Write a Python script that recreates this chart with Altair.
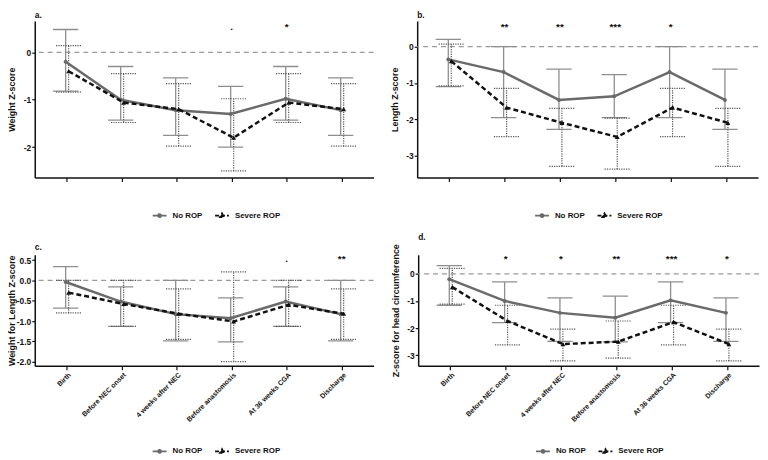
import altair as alt
import pandas as pd

FONT = "Liberation Sans"
STAGES = ["Birth", "Before NEC onset", "4 weeks after NEC", "Before anastomosis",
          "At 36 weeks CGA", "Discharge"]
GROUPS = ["No ROP", "Severe ROP"]

# ---- panel a: Weight Z-score
a_no_mean = [-0.20, -1.00, -1.22, -1.30, -0.98, -1.22]
a_no_lo = [-0.82, -1.43, -1.75, -2.00, -1.43, -1.75]
a_no_hi = [0.48, -0.30, -0.54, -0.72, -0.30, -0.54]
a_sev_mean = [-0.40, -1.06, -1.20, -1.80, -1.06, -1.20]
a_sev_lo = [-0.84, -1.48, -1.98, -2.50, -1.48, -1.98]
a_sev_hi = [0.14, -0.45, -0.66, -0.98, -0.45, -0.66]
a_sig = ["", "", "", ".", "*", ""]

# ---- panel b: Length Z-score
b_no_mean = [-0.35, -0.70, -1.47, -1.37, -0.70, -1.47]
b_no_lo = [-1.10, -1.96, -2.28, -1.96, -1.96, -2.28]
b_no_hi = [0.20, 0.00, -0.62, -0.77, 0.00, -0.62]
b_sev_mean = [-0.40, -1.68, -2.10, -2.49, -1.68, -2.10]
b_sev_lo = [-1.08, -2.48, -3.30, -3.38, -2.48, -3.30]
b_sev_hi = [0.07, -1.15, -1.70, -1.97, -1.15, -1.70]
b_sig = ["", "**", "**", "***", "*", ""]

# ---- panel c: Weight for Length Z-score
c_no_mean = [-0.04, -0.52, -0.83, -0.93, -0.52, -0.83]
c_no_lo = [-0.68, -1.13, -1.49, -1.51, -1.13, -1.49]
c_no_hi = [0.34, -0.16, 0.00, -0.43, -0.16, 0.00]
c_sev_mean = [-0.30, -0.58, -0.82, -1.01, -0.60, -0.82]
c_sev_lo = [-0.80, -1.13, -1.45, -2.00, -1.13, -1.45]
c_sev_hi = [0.00, 0.00, -0.21, 0.21, 0.00, -0.21]
c_sig = ["", "", "", "", ".", "**"]

# ---- panel d: Z-score for head circumference
d_no_mean = [-0.20, -1.00, -1.44, -1.62, -0.98, -1.44]
d_no_lo = [-1.16, -1.80, -2.49, -2.51, -1.80, -2.49]
d_no_hi = [0.30, -0.30, -0.89, -0.82, -0.30, -0.89]
d_sev_mean = [-0.49, -1.74, -2.59, -2.50, -1.78, -2.59]
d_sev_lo = [-1.12, -2.62, -3.21, -3.11, -2.62, -3.21]
d_sev_hi = [0.20, -1.16, -2.04, -1.74, -1.16, -2.04]
d_sig = ["", "*", "*", "**", "***", "*"]

NO_LINE = "#6a6a6a"
NO_BAR = "#8e8e8e"
SEV_LINE = "#111111"
SEV_BAR = "#555555"

LEG_NO = "M-1,0H1M-0.22,0A0.22,0.22,0,1,1,0.22,0A0.22,0.22,0,1,1,-0.22,0Z"
LEG_SEV = "M-1,0H1M0,-0.32L0.3,0.22L-0.3,0.22Z"


def panel(letter, ytitle, dom, ticks, fmt, w, h, show_x, no, sev, sig, sig_y, leg_y):
    rows = []
    for i, s in enumerate(STAGES):
        rows.append(dict(stage=s, group="No ROP", mean=no[0][i], lo=no[1][i], hi=no[2][i]))
        rows.append(dict(stage=s, group="Severe ROP", mean=sev[0][i], lo=sev[1][i], hi=sev[2][i]))
    df = pd.DataFrame(rows)
    sdf = pd.DataFrame({"stage": STAGES, "sig": sig})

    xaxis = alt.Axis(title=None, labels=show_x, labelAngle=-45, labelFontSize=7,
                     labelFont=FONT, labelFontWeight="bold", labelColor="#111",
                     tickSize=4, tickColor="#111", tickWidth=1.2, labelPadding=1,
                     domainColor="#111", domainWidth=1.5, grid=False)
    xenc = alt.X("stage:N", sort=STAGES, scale=alt.Scale(type="point", padding=0.58), axis=xaxis)
    yscale = alt.Scale(domain=dom, nice=False, zero=False)
    yaxis = alt.Axis(values=ticks, format=fmt, title=ytitle, grid=False,
                     labelExpr="replace(datum.label, '\u2212', '-')",
                     labelFont=FONT, labelFontSize=8.5, labelFontWeight="bold", labelColor="#111",
                     titleFont=FONT, titleFontSize=9, titleFontWeight="bold", titleColor="#111",
                     tickSize=3, tickColor="#111", tickWidth=1.2, labelPadding=1,
                     domainColor="#111", domainWidth=1.5, minExtent=17, maxExtent=17,
                     titlePadding=1)

    def Y(f):
        return alt.Y(f, scale=yscale, axis=yaxis)

    base = alt.Chart(df)
    zero = alt.Chart(pd.DataFrame({"z": [0]})).mark_rule(
        color="#9a9a9a", strokeDash=[5, 4], strokeWidth=1.3).encode(y=Y("z:Q"))

    layers = [zero]
    specs = [("No ROP", NO_BAR, [1, 0], -1, 1.3), ("Severe ROP", SEV_BAR, [1.2, 1.2], 2, 1.2)]
    for g, col, dash, off, sw in specs:
        gb = base.transform_filter(alt.datum.group == g)
        layers.append(gb.mark_rule(color=col, strokeDash=dash, strokeWidth=sw, xOffset=off)
                      .encode(x=xenc, y=Y("lo:Q"), y2="hi:Q"))
        layers.append(gb.transform_fold(["lo", "hi"], as_=["k", "v"])
                      .mark_point(shape="M-1,0H1", size=650, color=col, strokeDash=dash,
                                  strokeWidth=sw, opacity=1, filled=False, xOffset=off)
                      .encode(x=xenc, y=Y("v:Q")))
    nob = base.transform_filter(alt.datum.group == "No ROP")
    sevb = base.transform_filter(alt.datum.group == "Severe ROP")
    layers.append(nob.mark_line(color=NO_LINE, strokeWidth=2.5, xOffset=-1)
                  .encode(x=xenc, y=Y("mean:Q")))
    layers.append(nob.mark_point(shape="circle", filled=True, size=16, color=NO_LINE,
                                 opacity=1, xOffset=-1)
                  .encode(x=xenc, y=Y("mean:Q")))
    layers.append(sevb.mark_line(color=SEV_LINE, strokeWidth=2.5, strokeDash=[5, 3], xOffset=2)
                  .encode(x=xenc, y=Y("mean:Q")))
    layers.append(sevb.mark_point(shape="triangle-up", filled=True, size=24, color=SEV_LINE,
                                  opacity=1, xOffset=2)
                  .encode(x=xenc, y=Y("mean:Q")))
    layers.append(alt.Chart(sdf).mark_text(font=FONT, fontSize=10, fontWeight="bold",
                                           color="#111", baseline="middle")
                  .encode(x=xenc, y=alt.value(sig_y), text="sig:N"))

    leg = alt.Legend(title=None, orient="none", legendX=118, legendY=leg_y,
                     direction="horizontal", symbolSize=196, symbolStrokeWidth=1.8,
                     labelFont=FONT, labelFontSize=8, labelFontWeight="bold",
                     labelColor="#111", columnPadding=8, labelOffset=5, symbolOpacity=1)
    legend_layer = base.transform_filter("false").mark_point(filled=True, opacity=1).encode(
        x=xenc, y=Y("mean:Q"),
        shape=alt.Shape("group:N", scale=alt.Scale(domain=GROUPS, range=[LEG_NO, LEG_SEV]), legend=leg),
        fill=alt.Fill("group:N", scale=alt.Scale(domain=GROUPS, range=[NO_LINE, SEV_LINE]), legend=leg),
        stroke=alt.Stroke("group:N", scale=alt.Scale(domain=GROUPS, range=[NO_LINE, SEV_LINE]), legend=leg),
        strokeDash=alt.StrokeDash("group:N", scale=alt.Scale(domain=GROUPS, range=[[1, 0], [4, 2]]), legend=leg),
    )
    layers.append(legend_layer)

    return alt.layer(*layers).properties(
        width=w, height=h,
        title=alt.TitleParams(text=letter, anchor="start", frame="group", fontSize=8.5,
                              fontWeight="bold", font=FONT, color="#111", offset=2),
    )


pa = panel("a.", "Weight Z-score", [-2.64, 0.66], [0, -1, -2], "d", 342, 158, False,
           (a_no_mean, a_no_lo, a_no_hi), (a_sev_mean, a_sev_lo, a_sev_hi), a_sig, 6, 188)
pb = panel("b.", "Length Z-score", [-3.61, 0.71], [0, -1, -2, -3], "d", 344, 158, False,
           (b_no_mean, b_no_lo, b_no_hi), (b_sev_mean, b_sev_lo, b_sev_hi), b_sig, 6, 188)
pc = panel("c.", "Weight for Length Z-score", [-2.1, 0.63], [0.5, 0, -0.5, -1, -1.5, -2], ".1f",
           342, 112, True,
           (c_no_mean, c_no_lo, c_no_hi), (c_sev_mean, c_sev_lo, c_sev_hi), c_sig, 4, 190)
pd_ = panel("d.", "Z-score for head circumference", [-3.39, 0.7], [0, -1, -2, -3], "d",
            344, 112, True,
            (d_no_mean, d_no_lo, d_no_hi), (d_sev_mean, d_sev_lo, d_sev_hi), d_sig, 4, 190)

RES = dict(shape="independent", fill="independent", stroke="independent", strokeDash="independent")

top = alt.hconcat(pa, pb, spacing=16).resolve_scale(**RES).resolve_legend(**RES)
bot = alt.hconcat(pc, pd_, spacing=16).resolve_scale(**RES).resolve_legend(**RES)

chart = alt.vconcat(top, bot, spacing=12).resolve_scale(**RES).resolve_legend(**RES).properties(
    padding=0).configure_view(stroke=None)

chart.save("out.html", embed_options={"renderer": "svg", "actions": False})
